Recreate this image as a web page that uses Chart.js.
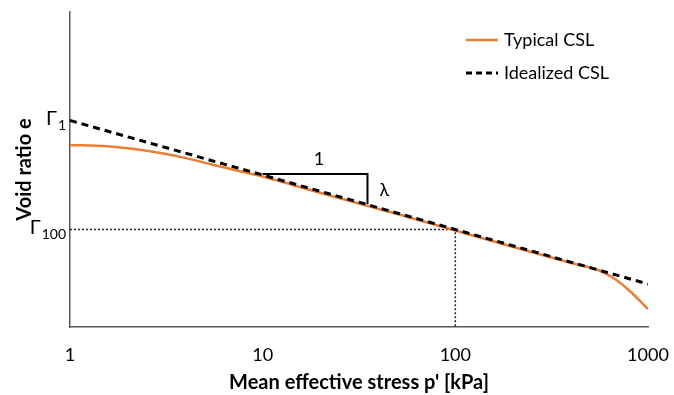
<!DOCTYPE html>
<html>
<head>
<meta charset="utf-8">
<script src="https://cdn.jsdelivr.net/npm/chart.js@4.4.1/dist/chart.umd.min.js"></script>
<style>
  html, body { margin: 0; padding: 0; background: #fff; }
  #wrap { width: 674px; height: 395px; }
</style>
</head>
<body>
<div id="wrap"><canvas id="cslChart"></canvas></div>
<script>
// mean effective stress p' [kPa] and void ratio e
const typicalP = [1, 1.5, 2, 3, 4, 5.5, 7, 10, 20, 50, 100, 200, 400, 550, 600, 685, 825, 1000];
const typicalE = [1.82, 1.809, 1.787, 1.738, 1.689, 1.622, 1.575, 1.505, 1.34, 1.13, 0.965, 0.80, 0.64, 0.57, 0.535, 0.47, 0.34, 0.18];

const idealP = [1, 1000];
const idealE = [2.065, 0.43];

// slope triangle (run of 1, rise of lambda)
const triP = [10, 35, 35];
const triE = [1.53, 1.53, 1.23];

// Gamma_100 guide
const guideP = [1, 100, 100];
const guideE = [0.975, 0.975, 0];

const xTicks = [1, 10, 100, 1000];
const gamma1 = 2.065;
const gamma100 = 0.975;

const FONT = 'Lato, "Open Sans", sans-serif';

const pts = (xs, ys) => xs.map((x, i) => ({x: x, y: ys[i]}));

const annotations = {
  id: 'annotations',
  afterDatasetsDraw(chart) {
    const ctx = chart.ctx;
    const xs = chart.scales.x, ys = chart.scales.y;
    ctx.save();
    ctx.fillStyle = '#000';
    ctx.textBaseline = 'alphabetic';

    // Gamma labels on the e axis
    const gamma = (sub, val) => {
      const y = ys.getPixelForValue(val);
      ctx.font = '14px ' + FONT;
      const sw = ctx.measureText(sub).width;
      ctx.textAlign = 'right';
      ctx.fillText(sub, xs.left - 4, y + 9);
      ctx.font = '20px ' + FONT;
      ctx.fillText('Γ', xs.left - 5 - sw, y + 4);
    };
    gamma('1', gamma1);
    gamma('100', gamma100);

    // triangle labels
    ctx.font = '18px ' + FONT;
    ctx.textAlign = 'center';
    ctx.fillText('1', xs.getPixelForValue(Math.sqrt(triP[0] * triP[1])) + 4, ys.getPixelForValue(triE[0]) - 9);
    ctx.textAlign = 'left';
    ctx.fillText('λ', xs.getPixelForValue(triP[1]) + 12, ys.getPixelForValue((triE[1] + triE[2]) / 2) + 7);

    // legend
    const items = [
      {label: 'Typical CSL', color: '#ED7D31', dash: [], width: 2.5, y: 40},
      {label: 'Idealized CSL', color: '#000', dash: [6, 4], width: 3, y: 73}
    ];
    items.forEach(it => {
      ctx.beginPath();
      ctx.strokeStyle = it.color;
      ctx.lineWidth = it.width;
      ctx.setLineDash(it.dash);
      ctx.moveTo(466, it.y);
      ctx.lineTo(498, it.y);
      ctx.stroke();
      ctx.setLineDash([]);
      ctx.font = '18px ' + FONT;
      ctx.textAlign = 'left';
      ctx.textBaseline = 'middle';
      ctx.fillText(it.label, 504, it.y);
    });
    ctx.restore();
  }
};

new Chart(document.getElementById('cslChart'), {
  type: 'line',
  data: {
    datasets: [
      {
        label: 'Idealized CSL',
        data: pts(idealP, idealE),
        borderColor: '#000',
        borderWidth: 3,
        borderDash: [7, 5],
        pointRadius: 0,
        fill: false
      },
      {
        label: 'Typical CSL',
        data: pts(typicalP, typicalE),
        borderColor: '#ED7D31',
        borderWidth: 2.5,
        cubicInterpolationMode: 'monotone',
        pointRadius: 0,
        fill: false
      },
      {
        label: 'slope',
        data: pts(triP, triE),
        borderColor: '#000',
        borderWidth: 2,
        pointRadius: 0,
        fill: false
      },
      {
        label: 'guide',
        data: pts(guideP, guideE),
        borderColor: '#222',
        borderWidth: 1.5,
        borderDash: [2, 2],
        pointRadius: 0,
        fill: false
      }
    ]
  },
  options: {
    responsive: true,
    maintainAspectRatio: false,
    animation: false,
    layout: { padding: { top: 12, right: 26, left: 0, bottom: 0 } },
    plugins: {
      legend: { display: false },
      tooltip: { enabled: false }
    },
    scales: {
      x: {
        type: 'logarithmic',
        min: 1,
        max: 1000,
        afterBuildTicks: s => { s.ticks = xTicks.map(v => ({value: v})); },
        afterFit: s => { s.height = 68; s.paddingLeft = 0; s.paddingRight = 0; },
        grid: { display: false, drawTicks: false },
        border: { display: true, color: '#595959', width: 1.5 },
        ticks: {
          color: '#000',
          font: { family: FONT, size: 18 },
          padding: 17,
          maxRotation: 0,
          callback: v => String(v)
        },
        title: {
          display: true,
          text: "Mean effective stress p' [kPa]",
          color: '#000',
          font: { family: FONT, size: 20, weight: 'bold' },
          padding: { top: 0, bottom: 0 }
        }
      },
      y: {
        min: 0,
        max: 3.15,
        afterFit: s => { s.width = 70; },
        grid: { display: false, drawTicks: false },
        border: { display: true, color: '#595959', width: 1.5 },
        ticks: { display: false },
        title: {
          display: true,
          text: 'Void ratio e',
          color: '#000',
          font: { family: FONT, size: 20, weight: 'bold' },
          padding: { top: 13, bottom: 0 }
        }
      }
    }
  },
  plugins: [annotations]
});
</script>
</body>
</html>
